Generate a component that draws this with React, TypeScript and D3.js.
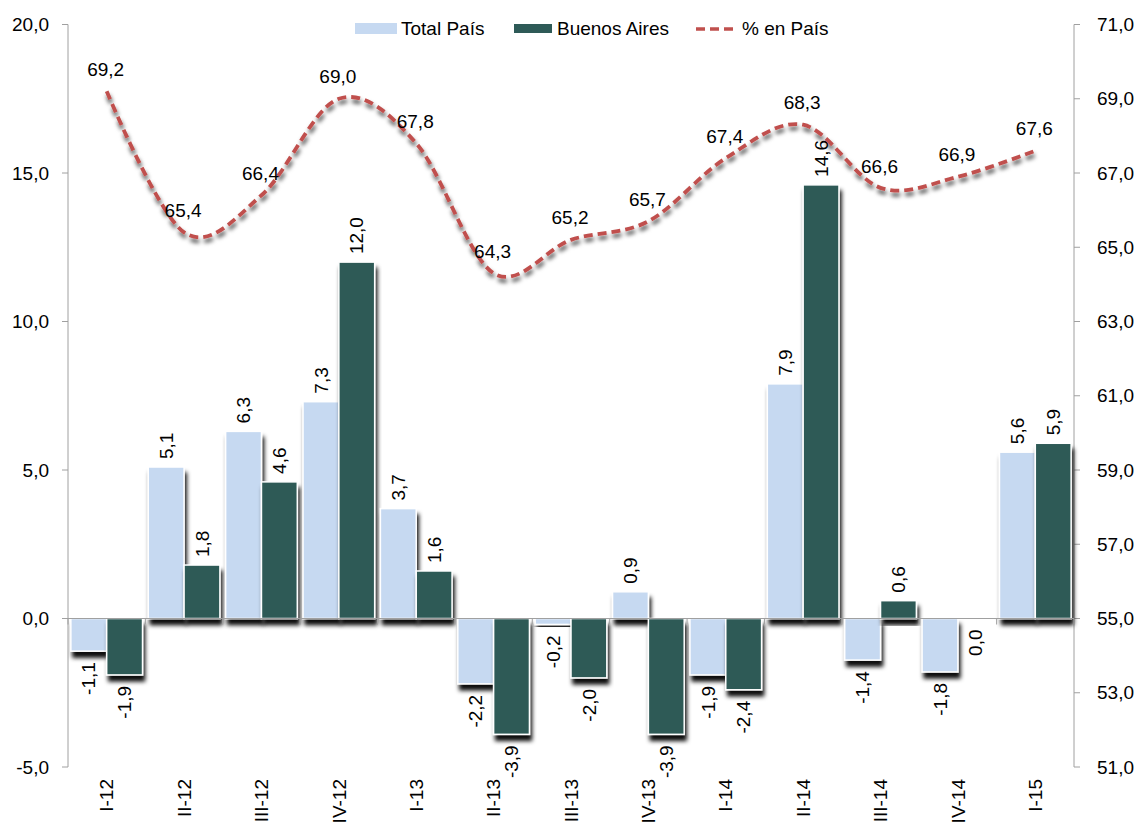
import React from 'react';
import * as d3 from 'd3';

const categories = ['I-12', 'II-12', 'III-12', 'IV-12', 'I-13', 'II-13', 'III-13', 'IV-13', 'I-14', 'II-14', 'III-14', 'IV-14', 'I-15'];
const totalPais = [-1.1, 5.1, 6.3, 7.3, 3.7, -2.2, -0.2, 0.9, -1.9, 7.9, -1.4, -1.8, 5.6];
const buenosAires = [-1.9, 1.8, 4.6, 12.0, 1.6, -3.9, -2.0, -3.9, -2.4, 14.6, 0.6, 0.0, 5.9];
const pctPais = [69.2, 65.4, 66.4, 69.0, 67.8, 64.3, 65.2, 65.7, 67.4, 68.3, 66.6, 66.9, 67.6];
const leftTicks = [-5, 0, 5, 10, 15, 20];
const rightTicks = [51, 53, 55, 57, 59, 61, 63, 65, 67, 69, 71];
const seriesNames = ['Total País', 'Buenos Aires', '% en País'];

const W = 1142;
const H = 825;
const FONT = '"Liberation Sans", Arial, sans-serif';
const FS = 19;
const LIGHT = '#c6d9f1';
const DARK = '#2e5a57';
const RED = '#c0504d';
const AXIS = '#a0a0a0';

const fmt = (v: number) => v.toFixed(1).replace('.', ',');

export default function App() {
  const x0 = d3.scaleBand<string>().domain(categories).range([68, 1074]).paddingInner(0).paddingOuter(0);
  const inner = d3.scaleBand<string>().domain(['t', 'b']).range([0, x0.bandwidth()]).paddingOuter(0.08).paddingInner(0);
  const yL = d3.scaleLinear().domain([-5, 20]).range([767, 24.5]);
  const yR = d3.scaleLinear().domain([51, 71]).range([767, 24.5]);

  const linePts: [number, number][] = pctPais.map((v, i) => [x0(categories[i])! + x0.bandwidth() / 2, yR(v)]);
  const lineGen = d3.line<[number, number]>().x(d => d[0]).y(d => d[1]).curve(d3.curveCatmullRom.alpha(0));
  const linePath = lineGen(linePts) || '';

  const bars: { key: string; x: number; w: number; v: number; fill: string }[] = [];
  categories.forEach((c, i) => {
    bars.push({ key: 't' + i, x: x0(c)! + inner('t')!, w: inner.bandwidth(), v: totalPais[i], fill: LIGHT });
    bars.push({ key: 'b' + i, x: x0(c)! + inner('b')!, w: inner.bandwidth(), v: buenosAires[i], fill: DARK });
  });

  const zeroY = yL(0);
  const boundaries = categories.map(c => x0(c)!).concat([x0.range()[1]]);

  return (
    <svg width={W} height={H} style={{ position: 'absolute', left: 0, top: 0, background: '#fff' }} fontFamily={FONT}>
      <defs>
        <filter id="barShadow" x="-20%" y="-20%" width="140%" height="160%">
          <feDropShadow dx="2" dy="6" stdDeviation="2" floodColor="#000" floodOpacity="0.95" />
        </filter>
        <filter id="lineShadow" x="-10%" y="-20%" width="120%" height="140%">
          <feDropShadow dx="1" dy="4" stdDeviation="2.2" floodColor="#000" floodOpacity="0.7" />
        </filter>
      </defs>

      {/* left axis */}
      <line x1={68} x2={68} y1={yL(20)} y2={yL(-5)} stroke={AXIS} strokeWidth={1} />
      {leftTicks.map(t => (
        <g key={'lt' + t}>
          <line x1={62} x2={68} y1={yL(t)} y2={yL(t)} stroke={AXIS} />
          <text x={49} y={yL(t)} dy="0.35em" textAnchor="end" fontSize={FS} fill="#000">{fmt(t)}</text>
        </g>
      ))}

      {/* right axis */}
      <line x1={1074} x2={1074} y1={yR(71)} y2={yR(51)} stroke={AXIS} strokeWidth={1} />
      {rightTicks.map(t => (
        <g key={'rt' + t}>
          <line x1={1074} x2={1080} y1={yR(t)} y2={yR(t)} stroke={AXIS} />
          <text x={1097} y={yR(t)} dy="0.35em" textAnchor="start" fontSize={FS} fill="#000">{fmt(t)}</text>
        </g>
      ))}

      {/* bars */}
      {bars.map(b => {
        const y = b.v >= 0 ? yL(b.v) : zeroY;
        const h = Math.max(Math.abs(yL(b.v) - zeroY), 0.5);
        return (
          <rect key={b.key} x={b.x} y={y} width={b.w} height={h} fill={b.fill} stroke="#fff" strokeWidth={1.5} filter="url(#barShadow)" />
        );
      })}

      {/* zero axis */}
      <line x1={68} x2={1074} y1={zeroY} y2={zeroY} stroke={AXIS} strokeWidth={1} />
      {boundaries.map((bx, i) => (
        <line key={'xt' + i} x1={bx} x2={bx} y1={zeroY} y2={zeroY + 6} stroke={AXIS} />
      ))}

      {/* bar labels */}
      {bars.map(b => {
        const cx = b.x + b.w / 2;
        if (b.v > 0) {
          const y = yL(b.v) - 8;
          return (
            <text key={'l' + b.key} transform={`translate(${cx},${y}) rotate(-90)`} dy="0.35em" textAnchor="start" fontSize={FS} fill="#000">{fmt(b.v)}</text>
          );
        }
        const y = yL(b.v) + 11;
        return (
          <text key={'l' + b.key} transform={`translate(${cx},${y}) rotate(-90)`} dy="0.35em" textAnchor="end" fontSize={FS} fill="#000">{fmt(b.v)}</text>
        );
      })}

      {/* line */}
      <path d={linePath} fill="none" stroke={RED} strokeWidth={3.8} strokeDasharray="9 5" filter="url(#lineShadow)" />
      {linePts.map((p, i) => (
        <text key={'pl' + i} x={p[0] - 1} y={p[1] - 22} dy="0.35em" textAnchor="middle" fontSize={FS} fill="#000">{fmt(pctPais[i])}</text>
      ))}

      {/* x labels */}
      {categories.map(c => (
        <text key={'xl' + c} transform={`translate(${x0(c)! + x0.bandwidth() / 2},779) rotate(-90)`} dy="0.35em" textAnchor="end" fontSize={FS} fill="#000">{c}</text>
      ))}

      {/* legend */}
      <rect x={355} y={23} width={42} height={11} fill={LIGHT} />
      <text x={401} y={28.5} dy="0.35em" fontSize={FS} fill="#000">{seriesNames[0]}</text>
      <rect x={514} y={24} width={38} height={9} fill={DARK} />
      <text x={557} y={28.5} dy="0.35em" fontSize={FS} fill="#000">{seriesNames[1]}</text>
      <line x1={696} x2={734} y1={29} y2={29} stroke={RED} strokeWidth={3.5} strokeDasharray="9 5" />
      <text x={742} y={28.5} dy="0.35em" fontSize={FS} fill="#000">{seriesNames[2]}</text>
    </svg>
  );
}
